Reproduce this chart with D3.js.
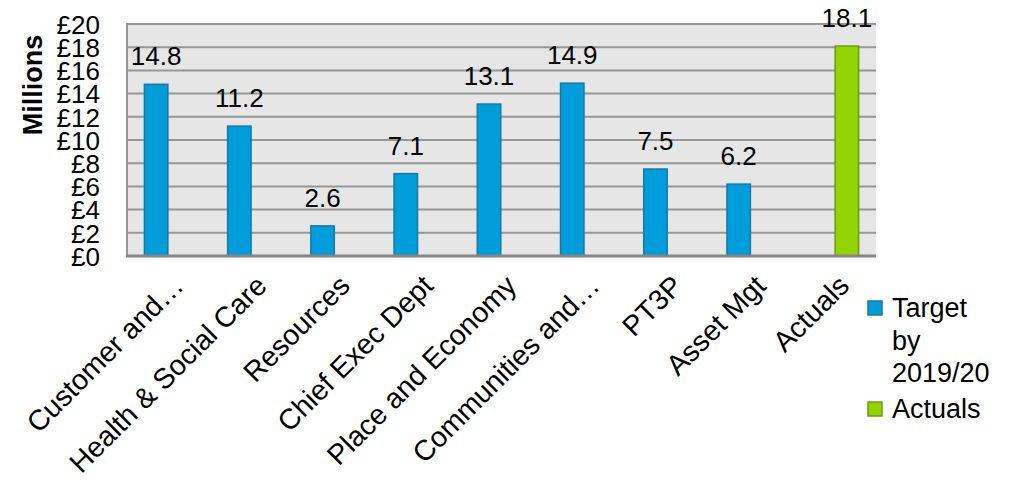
<!DOCTYPE html>
<html>
<head>
<meta charset="utf-8">
<script src="https://cdn.jsdelivr.net/npm/d3@7"></script>
<style>
  html, body { margin: 0; padding: 0; background: #ffffff; }
  svg { display: block; font-family: "Liberation Sans", Arial, sans-serif; }
</style>
</head>
<body>
<svg id="chart" width="1013" height="482"></svg>
<script>
const categories = ["Customer and…", "Health & Social Care", "Resources", "Chief Exec Dept",
  "Place and Economy", "Communities and…", "PT3P", "Asset Mgt", "Actuals"];
const targetValues = [14.8, 11.2, 2.6, 7.1, 13.1, 14.9, 7.5, 6.2, null];
const actualValues = [null, null, null, null, null, null, null, null, 18.1];
const seriesNames = ["Target by 2019/20", "Actuals"];
const yTicks = [0, 2, 4, 6, 8, 10, 12, 14, 16, 18, 20];

const colors = {
  target: { fill: "#009ddb", stroke: "#1b78a5" },
  actual: { fill: "#92d400", stroke: "#6a9e10" }
};

const svg = d3.select("#chart");
const pLeft = 127, pRight = 876, pTop = 24, pBottom = 256;

const x = d3.scaleBand().domain(categories).range([pLeft, pRight]).paddingInner(0.4).paddingOuter(0.2);
const xs = d3.scaleBand().domain(["target", "actual"]).range([0, x.bandwidth()]).padding(0);
const y = d3.scaleLinear().domain([0, 20]).range([pBottom, pTop]);

// plot background
svg.append("rect").attr("x", pLeft).attr("y", pTop).attr("width", pRight - pLeft).attr("height", pBottom - pTop)
  .attr("fill", "#e6e6e6");

// gridlines
svg.append("g").selectAll("line").data(yTicks.filter(d => d > 0)).join("line")
  .attr("x1", pLeft).attr("x2", pRight)
  .attr("y1", d => y(d)).attr("y2", d => y(d))
  .attr("stroke", "#969696").attr("stroke-width", 2);

// left border
svg.append("line").attr("x1", pLeft).attr("x2", pLeft).attr("y1", pTop - 1).attr("y2", pBottom)
  .attr("stroke", "#969696").attr("stroke-width", 2);

// y axis labels
const yAxis = d3.axisLeft(y).tickValues(yTicks).tickFormat(d => "£" + d).tickSize(0).tickPadding(0);
const yg = svg.append("g").attr("transform", `translate(100,0)`).call(yAxis);
yg.select(".domain").remove();
yg.selectAll("text").attr("font-size", 26).attr("fill", "#000").attr("font-family", "Liberation Sans, Arial, sans-serif")
  .attr("dy", "0.36em");

// y title
svg.append("text").attr("transform", "translate(42,85) rotate(-90)")
  .attr("text-anchor", "middle").attr("font-size", 27).attr("font-weight", "bold").attr("fill", "#000")
  .text("Millions");

// bars
function drawSeries(values, key, col) {
  const data = categories.map((c, i) => ({ c, v: values[i] })).filter(d => d.v != null);
  svg.append("g").selectAll("rect").data(data).join("rect")
    .attr("x", d => x(d.c) + xs(key) + 0.75)
    .attr("width", xs.bandwidth() - 1.5)
    .attr("y", d => y(d.v))
    .attr("height", d => y(0) - y(d.v))
    .attr("fill", col.fill).attr("stroke", col.stroke).attr("stroke-width", 1.5);
  svg.append("g").selectAll("text").data(data).join("text")
    .attr("x", d => x(d.c) + xs(key) + xs.bandwidth() / 2)
    .attr("y", d => y(d.v) - 19)
    .attr("text-anchor", "middle").attr("font-size", 26).attr("fill", "#000")
    .text(d => d.v.toFixed(1));
}
drawSeries(targetValues, "target", colors.target);
drawSeries(actualValues, "actual", colors.actual);

// bottom axis line
svg.append("line").attr("x1", pLeft - 1).attr("x2", pRight).attr("y1", pBottom).attr("y2", pBottom)
  .attr("stroke", "#868686").attr("stroke-width", 3);

// category labels
svg.append("g").selectAll("text").data(categories).join("text")
  .attr("transform", d => `translate(${x(d) + x.bandwidth() / 2 + 2},273) rotate(-45)`)
  .attr("text-anchor", "end").attr("dy", "0.72em").attr("font-size", 28.5).attr("fill", "#000")
  .text(d => d);

// legend
const legendItems = [
  { lines: ["Target", "by", "2019/20"], col: colors.target, y0: 317 },
  { lines: ["Actuals"], col: colors.actual, y0: 418 }
];
legendItems.forEach(it => {
  svg.append("rect").attr("x", 868).attr("y", it.y0 - 16).attr("width", 14).attr("height", 14)
    .attr("fill", it.col.fill).attr("stroke", it.col.stroke).attr("stroke-width", 1.5);
  const t = svg.append("text").attr("x", 892).attr("y", it.y0).attr("font-size", 27).attr("fill", "#000");
  it.lines.forEach((l, i) => t.append("tspan").attr("x", 892).attr("dy", i === 0 ? 0 : 32.5).text(l));
});
</script>
</body>
</html>
